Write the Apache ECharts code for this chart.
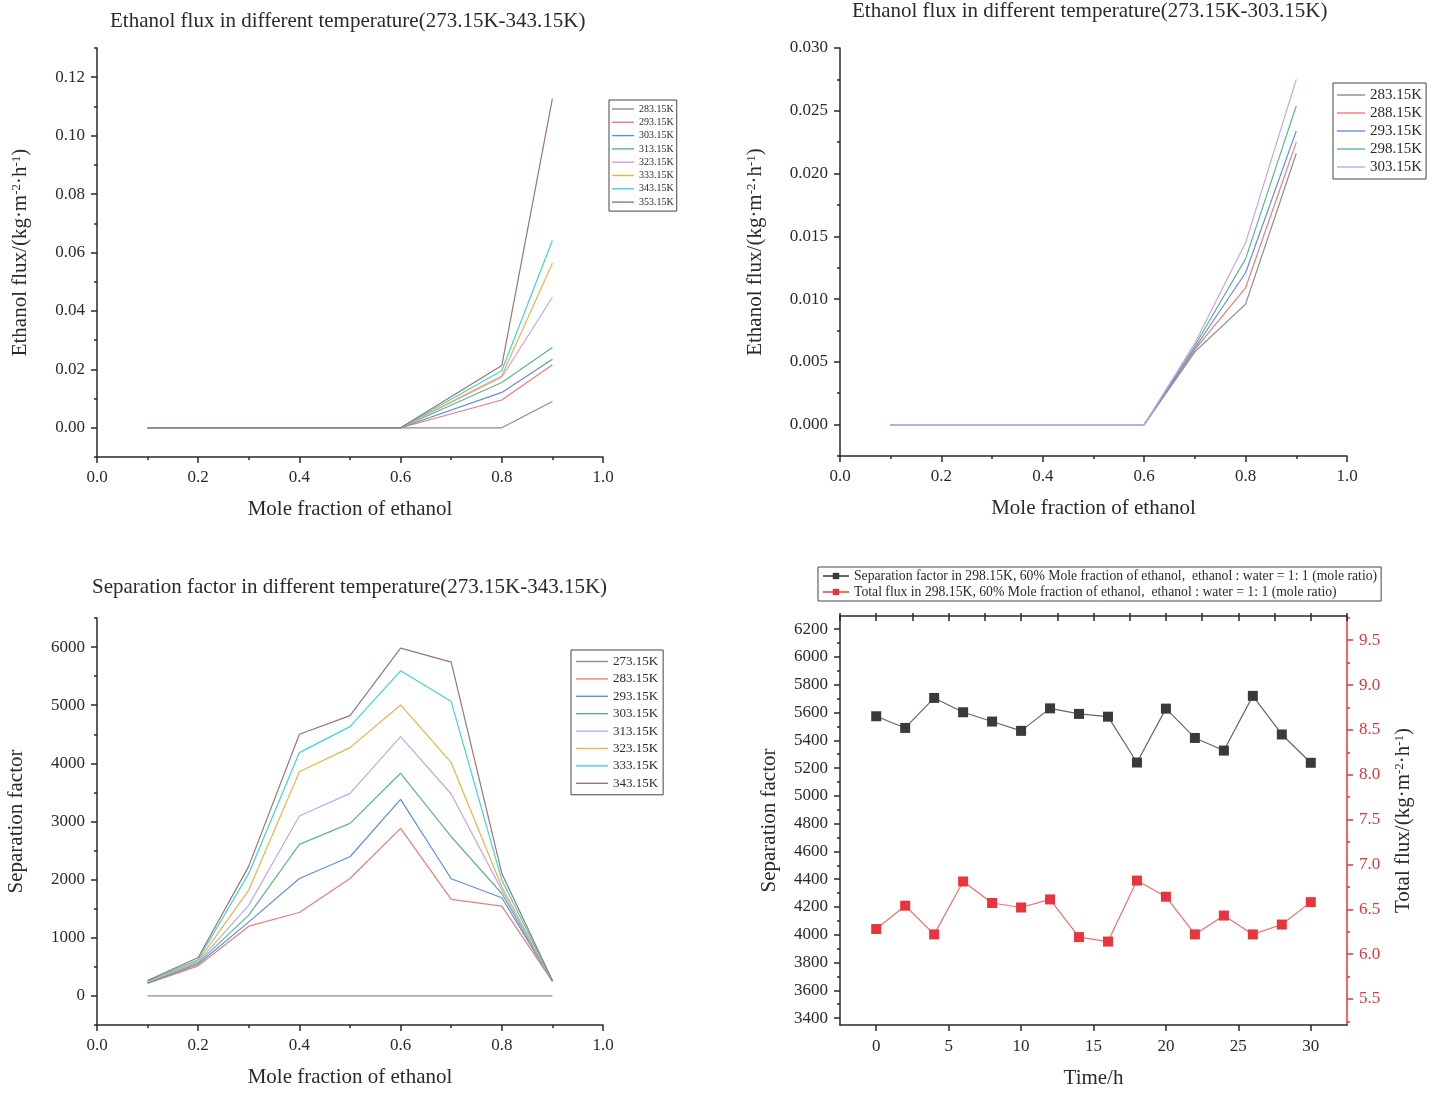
<!DOCTYPE html>
<html>
<head>
<meta charset="utf-8">
<script src="https://cdn.jsdelivr.net/npm/echarts@6/dist/echarts.min.js"></script>
<style>
  html, body { margin: 0; padding: 0; background: #fff; }
  #main { width: 1440px; height: 1093px; }
</style>
</head>
<body>
<div id="main"></div>
<script>
// ---- data ----
var moleFracA = [0.1, 0.2, 0.3, 0.4, 0.5, 0.6, 0.8, 0.9];
var moleFracB = [0.1, 0.2, 0.3, 0.4, 0.5, 0.6, 0.7, 0.8, 0.9];

// top-left: ethanol flux 283.15K-353.15K
var tempsA = ['283.15K', '293.15K', '303.15K', '313.15K', '323.15K', '333.15K', '343.15K', '353.15K'];
var fluxA283 = [0, 0, 0, 0, 0, 0, 0, 0.0090];
var fluxA293 = [0, 0, 0, 0, 0, 0, 0.0095, 0.0216];
var fluxA303 = [0, 0, 0, 0, 0, 0, 0.0121, 0.0235];
var fluxA313 = [0, 0, 0, 0, 0, 0, 0.0155, 0.0275];
var fluxA323 = [0, 0, 0, 0, 0, 0, 0.0173, 0.0447];
var fluxA333 = [0, 0, 0, 0, 0, 0, 0.0178, 0.0563];
var fluxA343 = [0, 0, 0, 0, 0, 0, 0.0195, 0.0641];
var fluxA353 = [0, 0, 0, 0, 0, 0, 0.0213, 0.1127];

// top-right: ethanol flux 283.15K-303.15K
var tempsB = ['283.15K', '288.15K', '293.15K', '298.15K', '303.15K'];
var fluxB283 = [0, 0, 0, 0, 0, 0, 0.0058, 0.0096, 0.0216];
var fluxB288 = [0, 0, 0, 0, 0, 0, 0.0060, 0.0109, 0.0225];
var fluxB293 = [0, 0, 0, 0, 0, 0, 0.0061, 0.0121, 0.0234];
var fluxB298 = [0, 0, 0, 0, 0, 0, 0.0063, 0.0132, 0.0254];
var fluxB303 = [0, 0, 0, 0, 0, 0, 0.0065, 0.0145, 0.0275];

// bottom-left: separation factor 273.15K-343.15K
var tempsC = ['273.15K', '283.15K', '293.15K', '303.15K', '313.15K', '323.15K', '333.15K', '343.15K'];
var sep273 = [0, 0, 0, 0, 0, 0, 0, 0, 0];
var sep283 = [215, 517, 1200, 1435, 2020, 2881, 1659, 1544, 250];
var sep293 = [225, 545, 1274, 2020, 2394, 3381, 2015, 1688, 250];
var sep303 = [235, 568, 1389, 2606, 2968, 3829, 2738, 1762, 255];
var sep313 = [240, 585, 1561, 3094, 3484, 4460, 3473, 1820, 255];
var sep323 = [245, 603, 1820, 3857, 4271, 5005, 4012, 1877, 260];
var sep333 = [255, 626, 2107, 4185, 4632, 5591, 5063, 1992, 260];
var sep343 = [265, 660, 2233, 4500, 4822, 5981, 5740, 2107, 265];

// bottom-right: stability test
var hours = [0, 2, 4, 6, 8, 10, 12, 14, 16, 18, 20, 22, 24, 26, 28, 30];
var sepFactor = [5573, 5489, 5705, 5602, 5535, 5468, 5630, 5590, 5570, 5240, 5628, 5417, 5326, 5720, 5442, 5238];
var totalFlux = [6.28, 6.54, 6.22, 6.81, 6.57, 6.52, 6.61, 6.19, 6.14, 6.82, 6.64, 6.22, 6.43, 6.22, 6.33, 6.58];
var nameSep = 'Separation factor in 298.15K, 60% Mole fraction of ethanol,  ethanol : water = 1: 1 (mole ratio)';
var nameFlux = 'Total flux in 298.15K, 60% Mole fraction of ethanol,  ethanol : water = 1: 1 (mole ratio)';

// tick labels
function steps(a, b, s) {
  var out = [];
  var n = Math.round((b - a) / s);
  for (var i = 0; i <= n; i++) out.push(+(a + i * s).toFixed(6));
  return out;
}
var ticksA = steps(0, 0.12, 0.02), minorA = steps(-0.01, 0.13, 0.01);
var ticksB = steps(0, 0.03, 0.005), minorB = steps(-0.0025, 0.03, 0.0025);
var ticksC = steps(0, 6000, 1000), minorC = steps(-500, 6500, 500);
var ticksT = steps(0, 30, 5), minorT = steps(-2.5, 32.5, 2.5);
var ticksS = steps(3400, 6200, 200), minorS = steps(3400, 6200, 100);
var ticksF = steps(5.5, 9.5, 0.5), minorF = steps(5.25, 9.75, 0.25);

// ---- style ----
var FONT = 'Liberation Serif';
var INK = '#2a2a2a';
var palette = {
  gray: '#8c8c8c', red: '#f07a7a', blue: '#5d8fe3', green: '#5db68a',
  violet: '#c9a3e8', orange: '#e9b446', cyan: '#3fd4d8', brown: '#9b7474'
};
var colA = [palette.gray, palette.red, palette.blue, palette.green, palette.violet, palette.orange, palette.cyan, palette.brown];
var colB = [palette.gray, palette.red, palette.blue, palette.green, palette.violet];
var fluxName = 'Ethanol flux/(kg·m{sup|-2}·h{sup|-1})';
var nameRich = { sup: { fontSize: 13, fontFamily: FONT, verticalAlign: 'top', padding: [0, 0, 8, 0] } };

function axisLine(color) {
  return { show: true, onZero: false, lineStyle: { color: color || INK, width: 1.5 } };
}
function nameStyle() {
  return { fontFamily: FONT, fontSize: 21, color: INK, rich: nameRich };
}
function moleAxis(grid) {
  return {
    type: 'value', gridIndex: grid, min: 0, max: 1, interval: 0.2,
    name: 'Mole fraction of ethanol', nameLocation: 'middle', nameGap: 42,
    nameTextStyle: nameStyle(),
    axisLine: axisLine(),
    axisTick: { length: 6, lineStyle: { color: INK, width: 1.5 } },
    minorTick: { show: true, splitNumber: 2, length: 3, lineStyle: { color: INK, width: 1.5 } },
    axisLabel: { fontFamily: FONT, fontSize: 17, color: INK, margin: 12,
      formatter: function (v) { return v.toFixed(1); } },
    splitLine: { show: false }
  };
}
function majorY(grid, min, max, ticks, digits, name, gap, pos, color) {
  return {
    type: 'value', gridIndex: grid, min: min, max: max, position: pos || 'left', offset: 0,
    name: name, nameLocation: 'middle', nameGap: gap, nameRotate: 90,
    nameTextStyle: nameStyle(),
    axisLine: axisLine(color),
    axisTick: { customValues: ticks, length: 6, lineStyle: { color: color || INK, width: 1.5 } },
    axisLabel: { customValues: ticks, fontFamily: FONT, fontSize: 17, color: color || INK, margin: 12,
      formatter: function (v) { return v.toFixed(digits); } },
    splitLine: { show: false }
  };
}
function minorY(grid, min, max, ticks, pos, color) {
  return {
    type: 'value', gridIndex: grid, min: min, max: max, position: pos || 'left', offset: 0,
    axisLine: { show: false, onZero: false },
    axisTick: { customValues: ticks, length: 3, lineStyle: { color: color || INK, width: 1.5 } },
    axisLabel: { show: false },
    splitLine: { show: false }
  };
}
function lineSeries(prefix, names, colors, xs, list, xi, yi) {
  return list.map(function (vals, k) {
    return {
      name: prefix + '|' + names[k], type: 'line', xAxisIndex: xi, yAxisIndex: yi,
      data: vals.map(function (v, i) { return [xs[i], v]; }),
      symbol: 'none', color: colors[k], lineStyle: { width: 1.2, color: colors[k] },
      z: 3 + k
    };
  });
}
function legendBox(prefix, names, left, top, fontSize, lineH, gap, itemW, pad, plain) {
  var lg = {
    orient: 'vertical', left: left, top: top, padding: pad,
    itemGap: gap, itemWidth: itemW, itemHeight: 8, itemTextGap: 2,
    borderColor: '#444', borderWidth: 1, backgroundColor: '#fff',
    data: names.map(function (n) { return prefix + '|' + n; }),
    formatter: function (n) { return n.split('|')[1]; },
    textStyle: { fontFamily: FONT, fontSize: fontSize, lineHeight: lineH, color: INK },
    selectedMode: false
  };
  if (plain) {
    lg.icon = 'rect';
    lg.itemHeight = 1.4;
  }
  return lg;
}

var seriesList = []
  .concat(lineSeries('a', tempsA, colA, moleFracA,
    [fluxA283, fluxA293, fluxA303, fluxA313, fluxA323, fluxA333, fluxA343, fluxA353], 0, 0))
  .concat(lineSeries('b', tempsB, colB, moleFracB,
    [fluxB283, fluxB288, fluxB293, fluxB298, fluxB303], 1, 2))
  .concat(lineSeries('c', tempsC, colA, moleFracB,
    [sep273, sep283, sep293, sep303, sep313, sep323, sep333, sep343], 2, 4));

seriesList.push({
  name: 'd|' + nameSep, type: 'line', xAxisIndex: 3, yAxisIndex: 6,
  data: hours.map(function (h, i) { return [h, sepFactor[i]]; }),
  symbol: 'rect', symbolSize: 10, color: '#3a3a3a',
  itemStyle: { color: '#3a3a3a' }, lineStyle: { width: 1.2, color: '#666' }, z: 5
});
seriesList.push({
  name: 'd|' + nameFlux, type: 'line', xAxisIndex: 3, yAxisIndex: 8,
  data: hours.map(function (h, i) { return [h, totalFlux[i]]; }),
  symbol: 'rect', symbolSize: 10, color: '#e8343c',
  itemStyle: { color: '#e8343c' }, lineStyle: { width: 1.2, color: '#f07070' }, z: 5
});

var titleStyle = { fontFamily: FONT, fontSize: 21, fontWeight: 'normal', color: INK };

var option = {
  animation: false,
  backgroundColor: '#fff',
  title: [
    { text: 'Ethanol flux in different temperature(273.15K-343.15K)', left: 110, top: 11, textStyle: titleStyle, padding: 0 },
    { text: 'Ethanol flux in different temperature(273.15K-303.15K)', left: 852, top: 1, textStyle: titleStyle, padding: 0 },
    { text: 'Separation factor in different temperature(273.15K-343.15K)', left: 92, top: 577, textStyle: titleStyle, padding: 0 }
  ],
  legend: [
    legendBox('a', tempsA, 609, 100, 10, 12, 1.3, 22, [3, 3, 3, 3], true),
    legendBox('b', tempsB, 1333, 83, 15, 16, 2, 28, [4, 4, 4, 4], true),
    legendBox('c', tempsC, 571, 650, 13, 15, 2.4, 32, [4, 5, 4, 5], true),
    legendBox('d', [nameSep, nameFlux], 818, 567, 13.7, 14, 2, 26, [2, 4, 2, 4], false)
  ],
  grid: [
    { left: 97, top: 48, width: 506, height: 409 },
    { left: 840, top: 48, width: 507, height: 408 },
    { left: 97, top: 618, width: 506, height: 407 },
    { left: 840, top: 616, width: 507, height: 409 }
  ],
  xAxis: [
    moleAxis(0),
    moleAxis(1),
    moleAxis(2),
    {
      type: 'value', gridIndex: 3, min: -2.5, max: 32.5, offset: 0,
      name: 'Time/h', nameLocation: 'middle', nameGap: 43, nameTextStyle: nameStyle(),
      axisLine: axisLine(),
      axisTick: { customValues: ticksT, length: 6, lineStyle: { color: INK, width: 1.5 } },
      axisLabel: { customValues: ticksT, fontFamily: FONT, fontSize: 17, color: INK, margin: 13 },
      splitLine: { show: false }
    },
    {
      type: 'value', gridIndex: 3, min: -2.5, max: 32.5, offset: 0,
      axisLine: { show: false, onZero: false },
      axisTick: { customValues: minorT, length: 3, lineStyle: { color: INK, width: 1.5 } },
      axisLabel: { show: false }, splitLine: { show: false }
    },
    {
      type: 'value', gridIndex: 3, min: -2.5, max: 32.5, position: 'top', offset: 0,
      axisLine: axisLine(),
      axisTick: { customValues: minorT, inside: true, length: 5, lineStyle: { color: INK, width: 1.5 } },
      axisLabel: { show: false }, splitLine: { show: false }
    }
  ],
  yAxis: [
    majorY(0, -0.01, 0.13, ticksA, 2, fluxName, 66),
    minorY(0, -0.01, 0.13, minorA),
    majorY(1, -0.0025, 0.03, ticksB, 3, fluxName, 74),
    minorY(1, -0.0025, 0.03, minorB),
    majorY(2, -500, 6500, ticksC, 0, 'Separation factor', 70),
    minorY(2, -500, 6500, minorC),
    majorY(3, 3350, 6295, ticksS, 0, 'Separation factor', 60),
    minorY(3, 3350, 6295, minorS),
    majorY(3, 5.21, 9.77, ticksF, 1, 'Total flux/(kg·m{sup|-2}·h{sup|-1})', 46, 'right', '#e8343c'),
    minorY(3, 5.21, 9.77, minorF, 'right', '#e8343c')
  ],
  series: seriesList
};

// name of the right axis is black, labels red
option.yAxis[8].nameTextStyle.color = INK;

var myChart = echarts.init(document.getElementById('main'), null, { renderer: 'canvas' });
myChart.setOption(option);
</script>
</body>
</html>
